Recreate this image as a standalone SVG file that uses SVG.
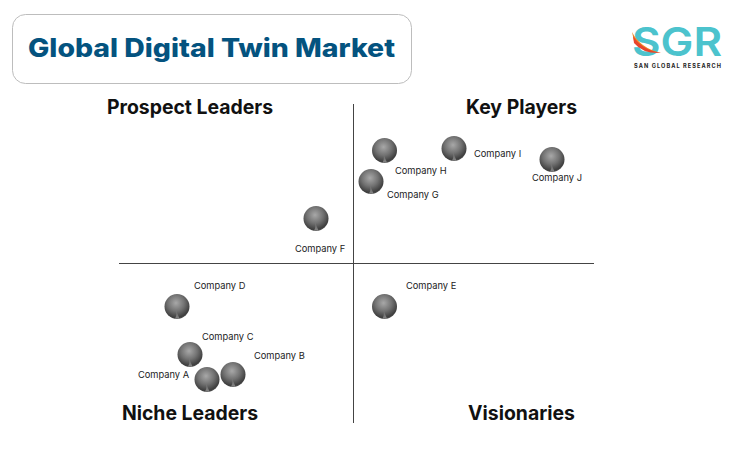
<svg xmlns="http://www.w3.org/2000/svg" width="735" height="450" viewBox="0 0 735 450">
<style>
text{font-family:Inter,"Noto Sans","Liberation Sans",sans-serif}
.q{font-size:19.4px;font-weight:700;fill:#111;text-anchor:middle}
.c{font-size:9.3px;font-weight:400;fill:#222}
.ax{stroke:#444;stroke-width:1;fill:none}
</style>
<defs>
<radialGradient id="ball" cx="0.46" cy="0.36" r="0.66">
<stop offset="0" stop-color="#a8a8a8"/><stop offset="0.5" stop-color="#727272"/><stop offset="0.88" stop-color="#3e3e3e"/><stop offset="1" stop-color="#585858"/>
</radialGradient>
<linearGradient id="gl" x1="0" y1="0" x2="0" y2="1"><stop offset="0" stop-color="#aaa" stop-opacity="0"/><stop offset="1" stop-color="#bbb" stop-opacity="0.6"/></linearGradient>
<g id="b"><circle r="12.500" fill="url(#ball)"/><path d="M-1 3 Q0 9 -2 12 L2.500 12 Q0.500 8 -1 3Z" fill="url(#gl)"/></g>
</defs>
<g id="title"><rect x="12.500" y="14.500" width="399" height="69" rx="13" fill="#fff" stroke="#bdbdbd"/>
<text x="28" y="57" font-weight="800" fill="#04537f" textLength="367" lengthAdjust="spacingAndGlyphs" style="font-size:25.500px">Global Digital Twin Market</text></g>
<g id="logo">
<text x="632" y="56" font-weight="600" fill="#4cc3cd" textLength="90" lengthAdjust="spacingAndGlyphs" style="font-size:40px">SGR</text>
<path d="M632 32 Q640 48 661 53 Q645 52 634 41Z" fill="#f08a24"/>
<path d="M633 36 Q642 50 661 53 Q643 54 634 43Z" fill="#e8452c"/>
<text x="634" y="68" font-weight="700" fill="#222" textLength="87" style="font-size:5.600px">SAN GLOBAL RESEARCH</text>
</g>
<g id="connectors"><path class="ax" d="M353.500 104V423M119 263.500H594"/></g>
<g id="quadrants">
<text class="q" x="190" y="114">Prospect Leaders</text>
<text class="q" x="521.500" y="114">Key Players</text>
<text class="q" x="190" y="420">Niche Leaders</text>
<text class="q" x="521.500" y="420">Visionaries</text>
</g>
<g id="company-a"><use href="#b" x="207" y="379.500"/><text class="c" x="138" y="378">Company A</text></g>
<g id="company-b"><use href="#b" x="233" y="374.500"/><text class="c" x="254" y="359">Company B</text></g>
<g id="company-c"><use href="#b" x="190" y="354.500"/><text class="c" x="202" y="340">Company C</text></g>
<g id="company-d"><use href="#b" x="177" y="306.500"/><text class="c" x="194" y="289">Company D</text></g>
<g id="company-e"><use href="#b" x="384.500" y="306.500"/><text class="c" x="406" y="289">Company E</text></g>
<g id="company-f"><use href="#b" x="316" y="218.500"/><text class="c" x="295" y="252">Company F</text></g>
<g id="company-g"><use href="#b" x="371" y="181.500"/><text class="c" x="387" y="198">Company G</text></g>
<g id="company-h"><use href="#b" x="384.500" y="150.500"/><text class="c" x="395" y="174">Company H</text></g>
<g id="company-i"><use href="#b" x="454" y="148.500"/><text class="c" x="474" y="157">Company I</text></g>
<g id="company-j"><use href="#b" x="552" y="159.500"/><text class="c" x="532" y="181">Company J</text></g>
</svg>
